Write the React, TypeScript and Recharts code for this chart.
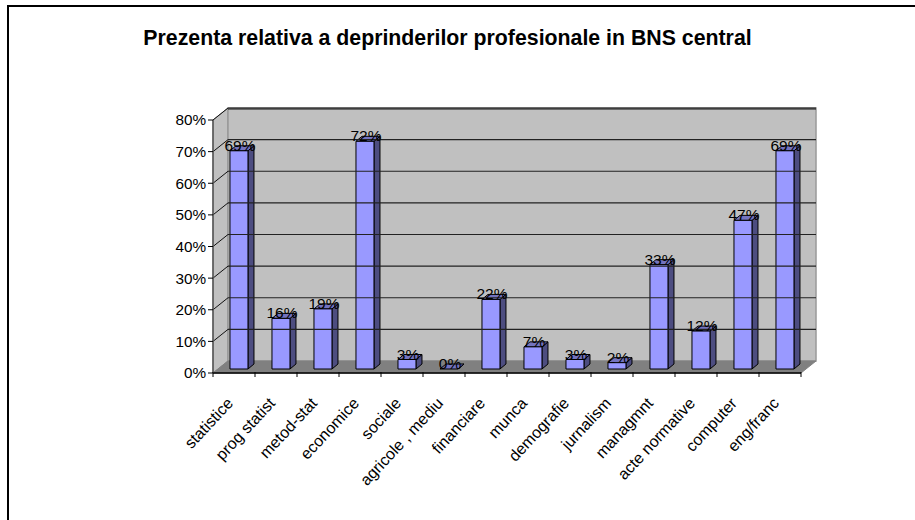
import { Bar, BarChart, LabelList, ReferenceArea, ReferenceLine, XAxis, YAxis } from "recharts";

const categories = [
  "statistice", "prog statist", "metod-stat", "economice", "sociale", "agricole , mediu", "financiare",
  "munca", "demografie", "jurnalism", "managmnt", "acte normative", "computer", "eng/franc",
];
const values = [69, 16, 19, 72, 3, 0, 22, 7, 3, 2, 33, 12, 47, 69];
const yTicks = [0, 10, 20, 30, 40, 50, 60, 70, 80];
const gridValues = [10, 20, 30, 40, 50, 60, 70, 80];

const FONT = "Liberation Sans, Arial, sans-serif";
const DX = 15; // depth of the back wall
const DY = -12;
const HALF_BAND = 21;

const data = categories.map((name, i) => ({ name, value: values[i] }));

// side walls and floor, drawn around the plot rectangle
function Walls({ x, y, width, height }: any) {
  const r = x + width;
  const b = y + height;
  return (
    <g>
      <polygon points={`${x},${y} ${x + DX},${y + DY} ${x + DX},${b + DY} ${x},${b}`} fill="#c0c0c0" stroke="#808080" />
      <polygon points={`${x + DX},${y + DY} ${r + DX},${y + DY} ${r + DX},${b + DY} ${x + DX},${b + DY}`} fill="#c0c0c0" stroke="#999" strokeWidth={1.5} />
      <polygon points={`${x},${b} ${x + DX},${b + DY} ${r + DX},${b + DY} ${r},${b}`} fill="#808080" stroke="#808080" />
      <line x1={x + DX} y1={y + DY + 1} x2={r + DX} y2={y + DY + 1} stroke="#111" />
    </g>
  );
}

function WallLine(props: any) {
  const { x1, y1, x2, y2 } = props;
  return (
    <g>
      <line x1={x1} y1={y1} x2={x1 + DX} y2={y1 + DY} stroke="#111" />
      <line x1={x1 + DX} y1={y1 + DY} x2={x2 + DX} y2={y2 + DY} stroke="#222" strokeWidth={1.2} />
    </g>
  );
}

function Bar3D({ x, y, width, height }: any) {
  const ox = 5;
  const oy = -4;
  const d = 6;
  const dy = -5;
  const l = x + ox;
  const r = l + width;
  const t = y + oy;
  const b = y + height + oy;
  return (
    <g stroke="#000" strokeWidth={1} strokeLinejoin="round">
      <polygon points={`${r},${t} ${r + d},${t + dy} ${r + d},${b + dy} ${r},${b}`} fill="#4d4d80" />
      <polygon points={`${l},${t} ${l + d},${t + dy} ${r + d},${t + dy} ${r},${t}`} fill="#7373bf" />
      <rect x={l} y={t} width={width} height={b - t} fill="#9999ff" />
    </g>
  );
}

function PercentLabel({ x, y, width, value }: any) {
  return (
    <text x={x + width / 2 + 6} y={y - 4} textAnchor="middle" fontFamily={FONT} fontSize={15.5} fill="#000">
      {value}%
    </text>
  );
}

// ticks sit on the band edges, labels end under the band centre
function CategoryTick({ x, y, payload, index }: any) {
  return (
    <g>
      <line x1={x - HALF_BAND} y1={y - 8} x2={x - HALF_BAND} y2={y - 3} stroke="#000" />
      {index === categories.length - 1 && (
        <line x1={x + HALF_BAND} y1={y - 8} x2={x + HALF_BAND} y2={y - 3} stroke="#000" />
      )}
      <text
        x={x}
        y={y + 24}
        textAnchor="end"
        fontFamily={FONT}
        fontSize={16}
        fill="#000"
        transform={`rotate(-47 ${x} ${y + 24})`}
      >
        {payload.value}
      </text>
    </g>
  );
}

export default function App() {
  return (
    <div style={{ position: "absolute", left: 0, top: 0, width: 915, height: 520, background: "#fff" }}>
      <div style={{ position: "absolute", left: 7, top: 5, width: 908, height: 2, background: "#000" }} />
      <div style={{ position: "absolute", left: 7, top: 5, width: 2, height: 515, background: "#000" }} />
      <div
        style={{
          position: "absolute",
          left: 0,
          width: 895,
          top: 26,
          textAlign: "center",
          fontFamily: FONT,
          fontWeight: "bold",
          fontSize: 21.3,
        }}
      >
        Prezenta relativa a deprinderilor profesionale in BNS central
      </div>
      <BarChart
        width={915}
        height={520}
        data={data}
        barCategoryGap="28.5%"
        margin={{ top: 120, right: 114, bottom: 0, left: 0 }}
        style={{ position: "absolute", left: 0, top: 0 }}
      >
        <ReferenceArea y1={0} y2={80} ifOverflow="visible" shape={<Walls />} />
        {gridValues.map((v) => (
          <ReferenceLine key={v} y={v} ifOverflow="visible" shape={<WallLine />} />
        ))}
        <XAxis
          dataKey="name"
          interval={0}
          axisLine={{ stroke: "#000", strokeWidth: 1.5 }}
          tickLine={false}
          tickSize={5}
          tick={<CategoryTick />}
          height={147}
        />
        <YAxis
          domain={[0, 80]}
          ticks={yTicks}
          interval={0}
          tickFormatter={(v) => `${v}%`}
          width={213}
          axisLine={{ stroke: "#555", strokeWidth: 1.5 }}
          tickLine={{ stroke: "#000" }}
          tickSize={5}
          tick={{ fontFamily: FONT, fontSize: 15.3, fill: "#000" }}
        />
        <Bar dataKey="value" isAnimationActive={false} shape={<Bar3D />}>
          <LabelList dataKey="value" content={<PercentLabel />} />
        </Bar>
      </BarChart>
    </div>
  );
}
